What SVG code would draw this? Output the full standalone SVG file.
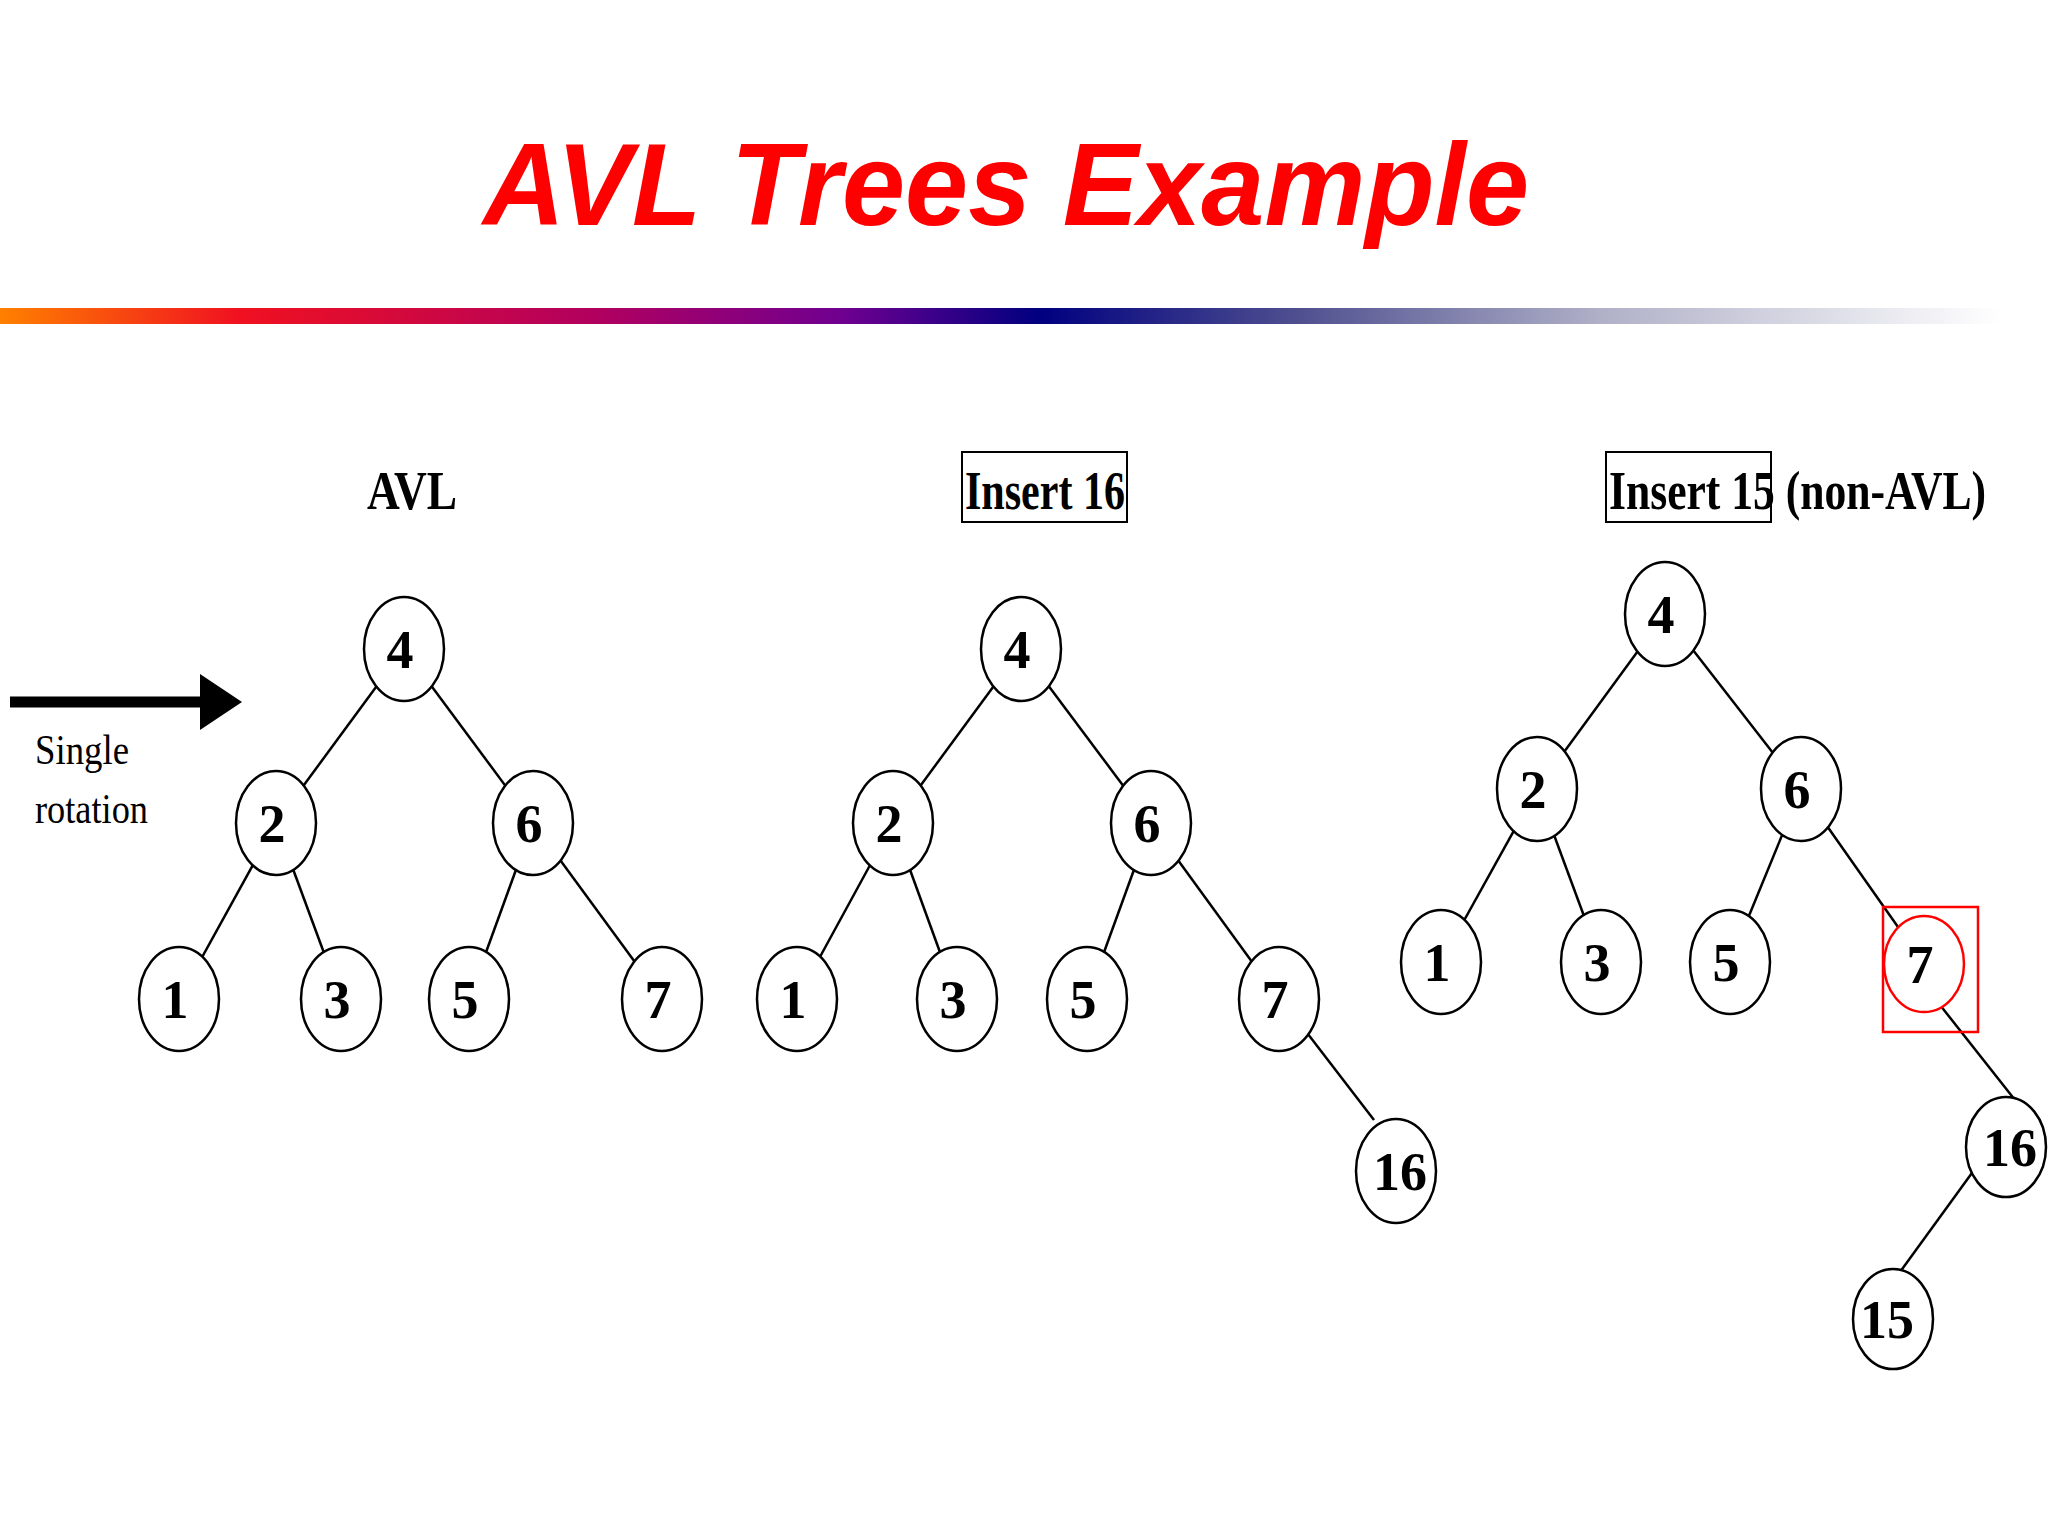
<svg xmlns="http://www.w3.org/2000/svg" width="2048" height="1536" viewBox="0 0 2048 1536">
<defs>
<linearGradient id="g" x1="0" x2="1" y1="0" y2="0">
<stop offset="0" stop-color="#ff8000"/><stop offset="0.12" stop-color="#f01020"/><stop offset="0.3" stop-color="#b00060"/><stop offset="0.42" stop-color="#700090"/><stop offset="0.52" stop-color="#000080"/><stop offset="0.65" stop-color="#505090"/><stop offset="0.8" stop-color="#b0b0c8"/><stop offset="1" stop-color="#ffffff"/>
</linearGradient>
<style>
.n ellipse{fill:#fff;stroke:#000;stroke-width:2.5}
.n text{font-family:"Liberation Serif",serif;font-weight:bold;font-size:54px;text-anchor:middle}
.e line{stroke:#000;stroke-width:2.5}
.lbl{font-family:"Liberation Serif",serif;font-weight:bold;font-size:54px}
</style>
</defs>
<rect width="2048" height="1536" fill="#fff"/>
<text x="1006" y="225" text-anchor="middle" font-family="Liberation Sans,Arial,sans-serif" font-weight="bold" font-style="italic" font-size="116" fill="#f00" textLength="1046" lengthAdjust="spacingAndGlyphs">AVL Trees Example</text>
<rect x="0" y="308" width="2000" height="16" fill="url(#g)"/>
<text class="lbl" x="367" y="509" textLength="90" lengthAdjust="spacingAndGlyphs">AVL</text>
<rect x="962" y="452" width="165" height="70" fill="none" stroke="#000" stroke-width="2"/>
<text class="lbl" x="965" y="509" textLength="160" lengthAdjust="spacingAndGlyphs">Insert 16</text>
<rect x="1606" y="452" width="165" height="70" fill="none" stroke="#000" stroke-width="2"/>
<text class="lbl" x="1609" y="509" textLength="377" lengthAdjust="spacingAndGlyphs">Insert 15 (non-AVL)</text>
<g id="arrow">
<line x1="10" y1="702" x2="205" y2="702" stroke="#000" stroke-width="11"/>
<polygon points="200,674 242,702 200,730" fill="#000"/>
<text x="35" y="764" font-family="Liberation Serif,serif" font-size="42" textLength="94" lengthAdjust="spacingAndGlyphs">Single</text>
<text x="35" y="823" font-family="Liberation Serif,serif" font-size="42" textLength="113" lengthAdjust="spacingAndGlyphs">rotation</text>
</g>
<g id="connectors" class="e">
<line x1="404" y1="649" x2="276" y2="823"/><line x1="404" y1="649" x2="533" y2="823"/>
<line x1="276" y1="823" x2="179" y2="999"/><line x1="276" y1="823" x2="341" y2="999"/>
<line x1="533" y1="823" x2="469" y2="999"/><line x1="533" y1="823" x2="662" y2="999"/>
<line x1="1021" y1="649" x2="893" y2="823"/><line x1="1021" y1="649" x2="1151" y2="823"/>
<line x1="893" y1="823" x2="797" y2="999"/><line x1="893" y1="823" x2="957" y2="999"/>
<line x1="1151" y1="823" x2="1087" y2="999"/><line x1="1151" y1="823" x2="1279" y2="999"/>
<line x1="1301" y1="1025" x2="1374" y2="1120"/>
<line x1="1665" y1="614" x2="1537" y2="789"/><line x1="1665" y1="614" x2="1801" y2="789"/>
<line x1="1537" y1="789" x2="1441" y2="962"/><line x1="1537" y1="789" x2="1601" y2="962"/>
<line x1="1801" y1="789" x2="1730" y2="962"/><line x1="1801" y1="789" x2="1924" y2="964"/>
<line x1="1940" y1="1005" x2="2015" y2="1100"/>
<line x1="1985" y1="1155" x2="1900" y2="1272"/>
</g>
<g id="t1-4" class="n"><ellipse cx="404" cy="649" rx="40" ry="52"/><text x="400" y="668">4</text></g>
<g id="t1-2" class="n"><ellipse cx="276" cy="823" rx="40" ry="52"/><text x="272" y="842">2</text></g>
<g id="t1-6" class="n"><ellipse cx="533" cy="823" rx="40" ry="52"/><text x="529" y="842">6</text></g>
<g id="t1-1" class="n"><ellipse cx="179" cy="999" rx="40" ry="52"/><text x="175" y="1018">1</text></g>
<g id="t1-3" class="n"><ellipse cx="341" cy="999" rx="40" ry="52"/><text x="337" y="1018">3</text></g>
<g id="t1-5" class="n"><ellipse cx="469" cy="999" rx="40" ry="52"/><text x="465" y="1018">5</text></g>
<g id="t1-7" class="n"><ellipse cx="662" cy="999" rx="40" ry="52"/><text x="658" y="1018">7</text></g>
<g id="t2-4" class="n"><ellipse cx="1021" cy="649" rx="40" ry="52"/><text x="1017" y="668">4</text></g>
<g id="t2-2" class="n"><ellipse cx="893" cy="823" rx="40" ry="52"/><text x="889" y="842">2</text></g>
<g id="t2-6" class="n"><ellipse cx="1151" cy="823" rx="40" ry="52"/><text x="1147" y="842">6</text></g>
<g id="t2-1" class="n"><ellipse cx="797" cy="999" rx="40" ry="52"/><text x="793" y="1018">1</text></g>
<g id="t2-3" class="n"><ellipse cx="957" cy="999" rx="40" ry="52"/><text x="953" y="1018">3</text></g>
<g id="t2-5" class="n"><ellipse cx="1087" cy="999" rx="40" ry="52"/><text x="1083" y="1018">5</text></g>
<g id="t2-7" class="n"><ellipse cx="1279" cy="999" rx="40" ry="52"/><text x="1275" y="1018">7</text></g>
<g id="t2-16" class="n"><ellipse cx="1396" cy="1171" rx="40" ry="52"/><text x="1400" y="1190">16</text></g>
<g id="t3-4" class="n"><ellipse cx="1665" cy="614" rx="40" ry="52"/><text x="1661" y="633">4</text></g>
<g id="t3-2" class="n"><ellipse cx="1537" cy="789" rx="40" ry="52"/><text x="1533" y="808">2</text></g>
<g id="t3-6" class="n"><ellipse cx="1801" cy="789" rx="40" ry="52"/><text x="1797" y="808">6</text></g>
<g id="t3-1" class="n"><ellipse cx="1441" cy="962" rx="40" ry="52"/><text x="1437" y="981">1</text></g>
<g id="t3-3" class="n"><ellipse cx="1601" cy="962" rx="40" ry="52"/><text x="1597" y="981">3</text></g>
<g id="t3-5" class="n"><ellipse cx="1730" cy="962" rx="40" ry="52"/><text x="1726" y="981">5</text></g>
<g id="t3-7" class="n"><ellipse cx="1924" cy="964" rx="40" ry="48" style="stroke:#f00"/><text x="1920" y="983">7</text><rect x="1883" y="907" width="95" height="125" fill="none" stroke="#f00" stroke-width="2.5"/></g>
<g id="t3-16" class="n"><ellipse cx="2006" cy="1147" rx="40" ry="50"/><text x="2010" y="1166">16</text></g>
<g id="t3-15" class="n"><ellipse cx="1893" cy="1319" rx="40" ry="50"/><text x="1887" y="1338">15</text></g>
</svg>
